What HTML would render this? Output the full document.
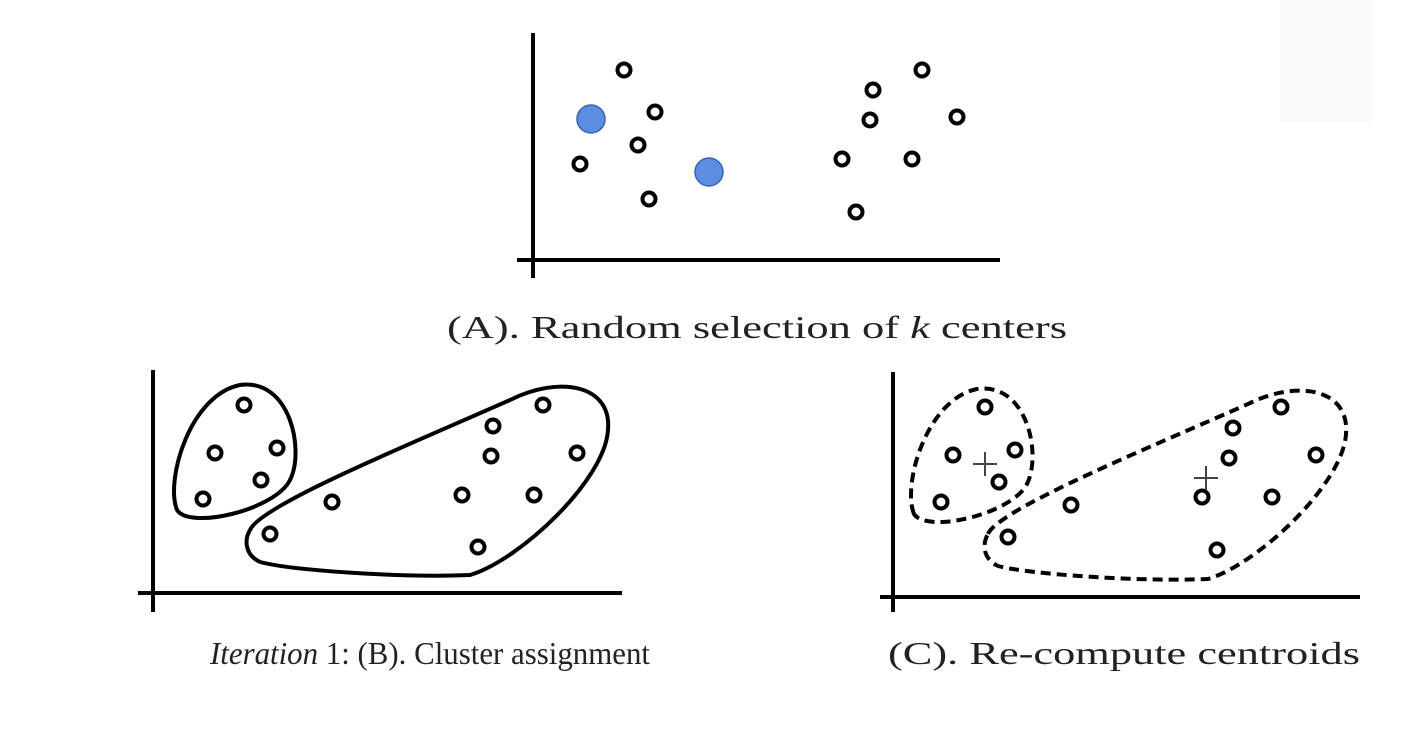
<!DOCTYPE html>
<html><head><meta charset="utf-8"><style>
html,body{margin:0;padding:0;background:#fff;}
svg{display:block;}
text{font-family:"Liberation Serif",serif;fill:#222;}
</style></head><body>
<svg width="1402" height="750" viewBox="0 0 1402 750">
<rect x="1280" y="0" width="92" height="122" fill="#fafafa"/>
<g id="g"></g>
<text x="447" y="338" font-size="32" textLength="620" lengthAdjust="spacingAndGlyphs">(A). Random selection of <tspan font-style="italic">k</tspan> centers</text>
<text x="210" y="664" font-size="32" textLength="440" lengthAdjust="spacingAndGlyphs"><tspan font-style="italic">Iteration</tspan> 1:  (B). Cluster assignment</text>
<text x="888" y="664" font-size="32" textLength="472" lengthAdjust="spacingAndGlyphs">(C). Re-compute centroids</text>
</svg>
<script>
const pointsA=[[624,70],[655,112],[638,145],[580,164],[649,199],[873,90],[922,70],[870,120],[957,117],[842,159],[912,159],[856,212]];
const centersA=[[591,119],[709,172]];
const pointsB=[[244,405],[215,453],[277,448],[261,480],[203,499],[332,502],[270,534],[493,426],[543,405],[491,456],[577,453],[462,495],[534,495],[478,547]];
const pointsC=[[985,407],[953,455],[1015,450],[999,482],[941,502],[1071,505],[1008,537],[1233,428],[1281,407],[1229,458],[1316,455],[1202,497],[1272,497],[1217,550]];
const centroidsC=[[985,464],[1206,478]];
const NS="http://www.w3.org/2000/svg",g=document.getElementById('g');
function mk(t,a){const e=document.createElementNS(NS,t);for(const k in a)e.setAttribute(k,a[k]);g.appendChild(e);return e;}
function axes(x,y0,y1,x0,x1,yh,n){
 let v=mk('line',{x1:x,y1:y0,x2:x,y2:y1,stroke:'#000','stroke-width':4});
 
 
 let h=mk('line',{x1:x0,y1:yh,x2:x1,y2:yh,stroke:'#000','stroke-width':4});
 
 
}
axes(533,33,278,517,1000,260,'panel-a');
axes(153,370,612,138,622,593,'panel-b');
axes(893,372,612,880,1360,597,'panel-c');
function pts(arr,n){arr.forEach(p=>{let c=mk('circle',{cx:p[0],cy:p[1],r:6.5,fill:'#fff',stroke:'#000','stroke-width':4});
 
 });}
pts(pointsA,'panel-a');pts(pointsB,'panel-b');pts(pointsC,'panel-c');
centersA.forEach(p=>{let c=mk('circle',{cx:p[0],cy:p[1],r:14,fill:'#5b8de0',stroke:'#3a63b0','stroke-width':1.5});
 
 });
centroidsC.forEach(p=>{let c=mk('path',{d:`M${p[0]-12},${p[1]}h24M${p[0]},${p[1]-12}v24`,stroke:'#444','stroke-width':2});
 
 });
const L='M177,510 C165,480 190,395 240,385 C290,378 305,450 290,480 C275,510 190,530 177,510 Z';
const R='M250,530 C260,505 420,440 510,400 C560,375 612,385 608,430 C605,480 520,560 470,575 C400,578 290,570 260,562 C245,555 244,540 250,530 Z';
[[L,'b-left'],[R,'b-right']].forEach(d=>{let e=mk('path',{d:d[0],fill:'none',stroke:'#000','stroke-width':4});
 
 });
[[L,'c-left',737,4],[R,'c-right',738,4]].forEach(d=>{let e=mk('path',{d:d[0],fill:'none',stroke:'#000','stroke-width':4,'stroke-dasharray':'10 6',transform:`translate(${d[2]},${d[3]})`});
 
 });
</script>
</body></html>
